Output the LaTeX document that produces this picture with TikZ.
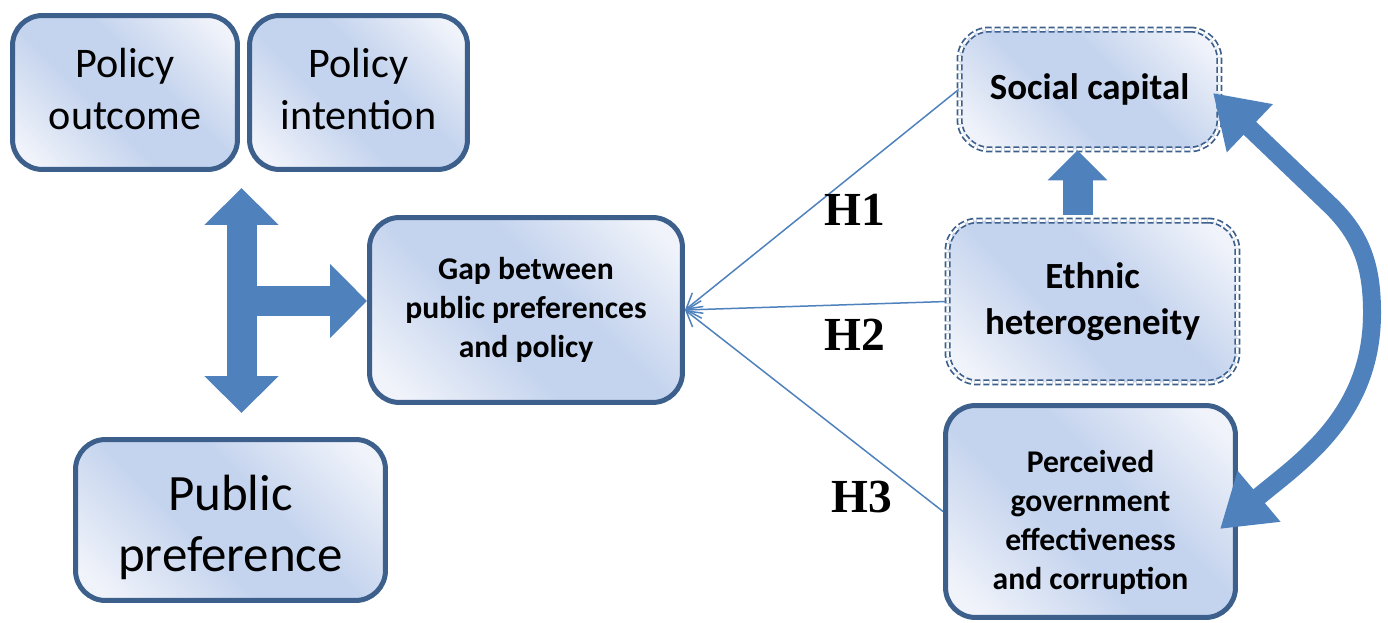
\documentclass[tikz,border=0pt]{standalone}
\usepackage{fontspec}
\setmainfont{Carlito}
\newfontfamily\hfont{Liberation Serif}
\usepackage{xcolor}
\usepackage{tikz}
\usetikzlibrary{shapes,arrows,positioning,calc,arrows.meta}

\definecolor{boxline}{HTML}{3C5F8C}
\definecolor{boxblue}{HTML}{C5D4EE}
\definecolor{boxlight}{HTML}{F0F3FA}
\definecolor{arrowblue}{HTML}{4F81BD}
\pgfdeclarehorizontalshading{boxshade}{100bp}{color(0bp)=(boxlight); color(20bp)=(boxlight); color(42bp)=(boxblue); color(58bp)=(boxblue); color(80bp)=(boxlight); color(100bp)=(boxlight)}

\begin{document}
\begin{tikzpicture}[x=0.02cm, y=0.02cm,
    box/.style={draw=boxline, line width=1mm, rounded corners=6mm, shading=boxshade, shading angle=45, align=center, inner sep=0pt},
    dashbox/.style={draw=boxline, line width=0.35mm, double=white, double distance=0.5mm, dash pattern=on 1.2mm off 0.6mm, rounded corners=6mm, shading=boxshade, shading angle=45, align=center, inner sep=0pt},
    bigarrow/.style={draw=arrowblue, line width=6mm},
    link/.style={draw=arrowblue, line width=0.3mm, -{Straight Barb[length=3mm, width=3.5mm]}},
    hlabel/.style={font=\hfont\bfseries\fontsize{27}{30}\selectfont}]
    \useasboundingbox (0,0) rectangle (1388,622);

    % Policy boxes
    \node[box, minimum width=45mm, minimum height=30.8mm, font=\fontsize{24}{29.6}\selectfont] (outcome) at (125,529.5) {Policy\\outcome\rule[-1.5mm]{0pt}{0pt}};
    \node[box, minimum width=43.6mm, minimum height=30.8mm, font=\fontsize{24}{29.6}\selectfont] (intention) at (358.5,529.5) {Policy\\intention\rule[-1.5mm]{0pt}{0pt}};
    \node[box, minimum width=62mm, minimum height=32.2mm, font=\fontsize{29}{35}\selectfont] (public) at (230.5,102) {\rule{0pt}{10mm}Public\\preference};
    \node[box, minimum width=62.6mm, minimum height=37mm, font=\bfseries\fontsize{18}{22}\selectfont] (gap) at (526,312) {Gap between\\public preferences\\and policy};

    % Factors
    \node[dashbox, minimum width=52mm, minimum height=24mm, font=\bfseries\fontsize{21}{26}\selectfont] (social) at (1089.5,532.5) {Social capital};
    \node[dashbox, minimum width=58mm, minimum height=32.4mm, font=\bfseries\fontsize{21}{26}\selectfont] (ethnic) at (1092.5,320.5) {Ethnic\\heterogeneity};
    \node[box, minimum width=58mm, minimum height=42.4mm, font=\bfseries\fontsize{18}{22.2}\selectfont] (perceived) at (1090.5,110.5) {\rule{0pt}{8.6mm}Perceived\\government\\effectiveness\\and corruption};

    % Block arrows
    \coordinate (top) at (241.5,434);
    \coordinate (bottom) at (241.5,209);
    \coordinate (junction) at (241.5,321);
    \draw[bigarrow, {Triangle[width=14.4mm, length=7.4mm]}-{Triangle[width=14.4mm, length=7.4mm]}] (top) -- (bottom);
    \draw[bigarrow, -{Triangle[width=14.4mm, length=7.4mm]}] (junction) -- (junction -| gap.west);
    \draw[bigarrow, -{Triangle[width=11.6mm, length=6mm]}] ([xshift=-3mm, yshift=1mm]ethnic.north) -- ([xshift=-3mm]ethnic.north |- social.south);
    \draw[draw=arrowblue, line width=3.6mm, {Triangle[width=12.6mm, length=10.2mm]}-{Triangle[width=12.6mm, length=10.2mm]}]
        (1213,529) -- (1330,417) to[out=-44, in=90] (1372,309) to[out=-90, in=40] (1220,93);

    % Hypotheses
    \draw[link] (social.west) -- (gap.east);
    \draw[link] (ethnic.west) -- (gap.east);
    \draw[link] (perceived.west) -- (gap.east);
    \node[hlabel] (h1) at (855,412) {H1};
    \node[hlabel] (h2) at (855,287) {H2};
    \node[hlabel] (h3) at (862,125) {H3};
\end{tikzpicture}
\end{document}
